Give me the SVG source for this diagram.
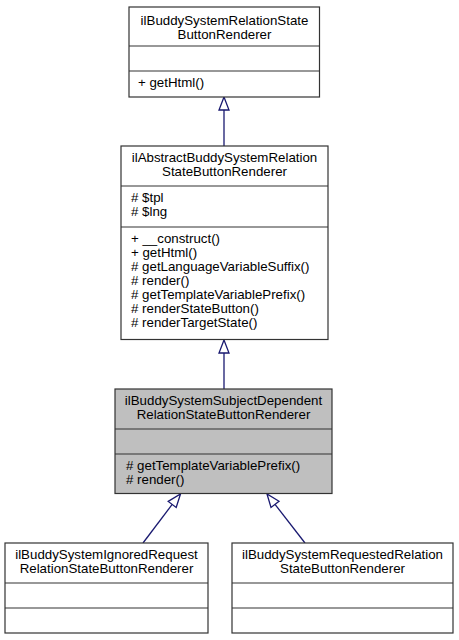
<svg xmlns="http://www.w3.org/2000/svg" width="459" height="640" viewBox="0 0 459 640">
<style>
.box{fill:#ffffff;stroke:#333333;stroke-width:1.2}
.cur{fill:#bfbfbf;stroke:#333333;stroke-width:1.2}
.sep{stroke:#333333;stroke-width:1.2}
text{font-family:"Liberation Sans",Arial,Helvetica,sans-serif;font-size:13.3px;fill:#000000}
.c{text-anchor:middle}
.edge{stroke:#191970;stroke-width:1.3;fill:none}
.head{fill:#ffffff;stroke:#191970;stroke-width:1.3}
</style>
<rect width="459" height="640" fill="#ffffff"/>
<g id="connectors">
  <line class="edge" x1="224" y1="110" x2="224" y2="146"/>
  <polygon class="head" points="224,97 219,110 229,110"/>
  <line class="edge" x1="224" y1="353" x2="224" y2="389"/>
  <polygon class="head" points="224,340 219,353 229,353"/>
  <line class="edge" x1="172.2" y1="504.4" x2="143" y2="543"/>
  <polygon class="head" points="180.5,494 176.2,507.4 168.2,501.4"/>
  <line class="edge" x1="275" y1="504.3" x2="305" y2="543"/>
  <polygon class="head" points="267,494 271,507.4 279,501.2"/>
</g>
<g id="node1">
  <rect class="box" x="129" y="7" width="190.5" height="90"/>
  <line class="sep" x1="129" y1="46" x2="319.5" y2="46"/>
  <line class="sep" x1="129" y1="71" x2="319.5" y2="71"/>
  <text class="c" x="224.5" y="25">ilBuddySystemRelationState</text>
  <text class="c" x="224.5" y="39">ButtonRenderer</text>
  <text x="138" y="87">+ getHtml()</text>
</g>
<g id="node2">
  <rect class="box" x="121" y="146" width="207" height="193.5"/>
  <line class="sep" x1="121" y1="186" x2="328" y2="186"/>
  <line class="sep" x1="121" y1="227" x2="328" y2="227"/>
  <text class="c" x="224.5" y="162">ilAbstractBuddySystemRelation</text>
  <text class="c" x="224.5" y="176">StateButtonRenderer</text>
  <text x="131" y="202">#  $tpl</text>
  <text x="131" y="216">#  $lng</text>
  <text x="131" y="243">+  __construct()</text>
  <text x="131" y="257">+  getHtml()</text>
  <text x="131" y="271">#  getLanguageVariableSuffix()</text>
  <text x="131" y="285">#  render()</text>
  <text x="131" y="299">#  getTemplateVariablePrefix()</text>
  <text x="131" y="313">#  renderStateButton()</text>
  <text x="131" y="327">#  renderTargetState()</text>
</g>
<g id="node3">
  <rect class="cur" x="115" y="389" width="217" height="104.5"/>
  <line class="sep" x1="115" y1="429" x2="332" y2="429"/>
  <line class="sep" x1="115" y1="454" x2="332" y2="454"/>
  <text class="c" x="223.5" y="405">ilBuddySystemSubjectDependent</text>
  <text class="c" x="223.5" y="419">RelationStateButtonRenderer</text>
  <text x="126" y="470">#  getTemplateVariablePrefix()</text>
  <text x="126" y="484">#  render()</text>
</g>
<g id="node4">
  <rect class="box" x="5" y="543" width="203" height="90"/>
  <line class="sep" x1="5" y1="583" x2="208" y2="583"/>
  <line class="sep" x1="5" y1="608" x2="208" y2="608"/>
  <text class="c" x="106.5" y="559">ilBuddySystemIgnoredRequest</text>
  <text class="c" x="106.5" y="573">RelationStateButtonRenderer</text>
</g>
<g id="node5">
  <rect class="box" x="232" y="543" width="221" height="90"/>
  <line class="sep" x1="232" y1="583" x2="453" y2="583"/>
  <line class="sep" x1="232" y1="608" x2="453" y2="608"/>
  <text class="c" x="342.5" y="559">ilBuddySystemRequestedRelation</text>
  <text class="c" x="342.5" y="573">StateButtonRenderer</text>
</g>
</svg>
